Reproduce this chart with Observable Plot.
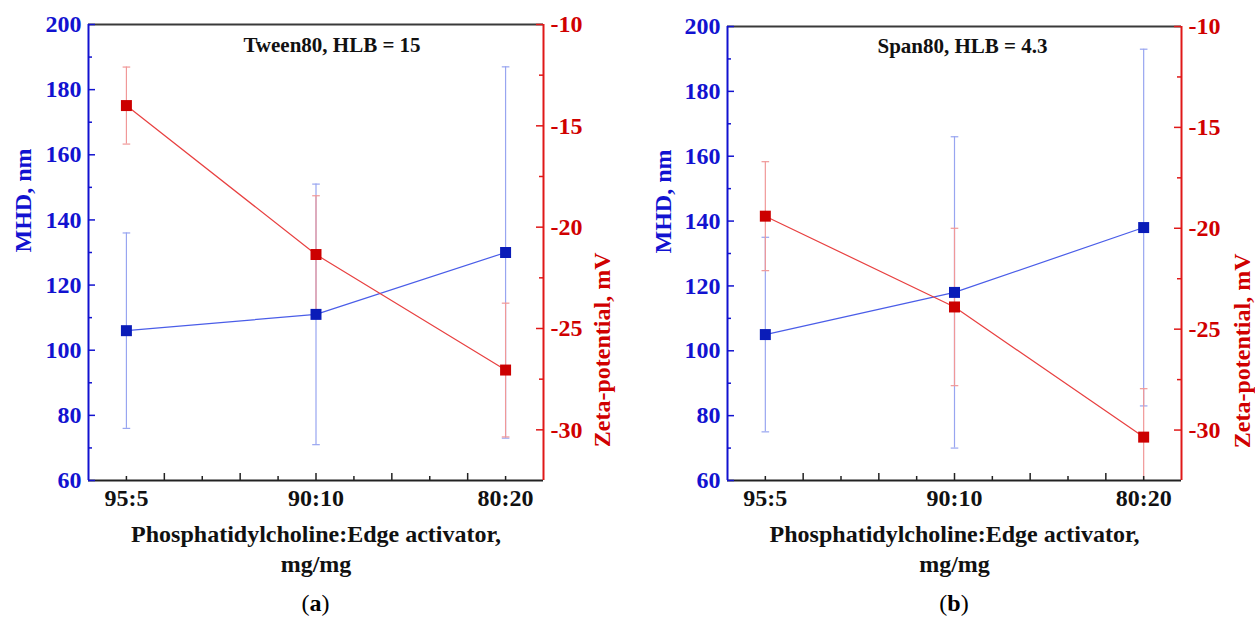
<!DOCTYPE html>
<html><head><meta charset="utf-8">
<script src="https://cdn.jsdelivr.net/npm/d3@7"></script>
<script src="https://cdn.jsdelivr.net/npm/@observablehq/plot@0.6"></script>
<style>
body{margin:0;background:#fff;}
#wrap{display:flex;width:1255px;height:621px;overflow:hidden;}
.panel{display:flex;flex-direction:column;}
.cap{height:36px;line-height:36px;text-align:center;font-family:"Liberation Serif","Times New Roman",serif;font-size:24px;color:#000;box-sizing:border-box;}
</style></head><body><div id="wrap"></div>
<script>
// ---- data ----
const categories = ["95:5", "90:10", "80:20"];
const xIndex = [1, 2, 3];
const titles = ["Tween80, HLB = 15", "Span80, HLB = 4.3"];
const captionLetters = ["a", "b"];
// panel (a)
const mhdA = [106, 111, 130];
const mhdErrA = [30, 40, 57];
const zetaA = [-14.0, -21.35, -27.05];
const zetaErrA = [1.9, 2.9, 3.3];
// panel (b)
const mhdB = [105, 118, 138];
const mhdErrB = [30, 48, 55];
const zetaB = [-19.4, -23.9, -30.35];
const zetaErrB = [2.7, 3.9, 2.4];
// axes
const mhdDomain = [60, 200];
const zetaDomain = [-32.5, -10];
const mhdTicks = [60, 80, 100, 120, 140, 160, 180, 200];
const mhdMinor = [70, 90, 110, 130, 150, 170, 190];
const zetaTicks = [-10, -15, -20, -25, -30];
const zetaMinor = [-12.5, -17.5, -22.5, -27.5];
const xDomain = [0.8, 3.2];
const xMajor = [1.2, 1.6, 2.0, 2.4, 2.8];
const xMinor = [1.0, 1.4, 1.8, 2.2, 2.6, 3.0];
const xLabel = "Phosphatidylcholine:Edge activator,\nmg/mg";
const yLabelLeft = "MHD, nm";
const yLabelRight = "Zeta-potential, mV";

// ---- colours ----
const BLUE_AXIS = "#1212d0", BLUE_MARK = "#0a1cb8", BLUE_LINE = "#4a5de8", BLUE_ERR = "#98a5f0";
const RED_AXIS = "#e01818", RED_TEXT = "#d00000", RED_MARK = "#cc0000", RED_LINE = "#e84040", RED_ERR = "#f09898";
const FONT = "'Liberation Serif','Times New Roman',serif";

const toY = d3.scaleLinear().domain(zetaDomain).range(mhdDomain);
const capSymbol = {draw(ctx) { ctx.moveTo(-3.8, 0); ctx.lineTo(3.8, 0); }};

function panel(o) {
  const H = 585, marginBottom = H - 480;
  const fw = o.width - o.marginLeft - o.marginRight;
  const fh = H - o.marginTop - marginBottom;
  const rows = categories.map((c, i) => ({
    x: xIndex[i], cat: c,
    m: o.mhd[i], mLo: o.mhd[i] - o.mhdErr[i], mHi: o.mhd[i] + o.mhdErr[i],
    z: toY(o.zeta[i]), zLo: toY(o.zeta[i] - o.zetaErr[i]), zHi: toY(o.zeta[i] + o.zetaErr[i])
  }));
  const txt = {fontWeight: "bold", fontFamily: FONT};
  const svg = Plot.plot({
    width: o.width, height: H,
    marginLeft: o.marginLeft, marginRight: o.marginRight, marginTop: o.marginTop, marginBottom,
    x: {domain: xDomain},
    y: {domain: mhdDomain},
    style: {fontFamily: FONT, background: "white", overflow: "visible"},
    marks: [
      // error bars
      Plot.ruleX(rows, {x: "x", y1: "mLo", y2: "mHi", stroke: BLUE_ERR, strokeWidth: 1.2, clip: true}),
      Plot.dot(rows, {x: "x", y: "mLo", symbol: capSymbol, stroke: BLUE_ERR, fill: "none", strokeWidth: 1.2, clip: true}),
      Plot.dot(rows, {x: "x", y: "mHi", symbol: capSymbol, stroke: BLUE_ERR, fill: "none", strokeWidth: 1.2, clip: true}),
      Plot.ruleX(rows, {x: "x", y1: "zLo", y2: "zHi", stroke: RED_ERR, strokeWidth: 1.2, clip: true}),
      Plot.dot(rows, {x: "x", y: "zLo", symbol: capSymbol, stroke: RED_ERR, fill: "none", strokeWidth: 1.2, clip: true}),
      Plot.dot(rows, {x: "x", y: "zHi", symbol: capSymbol, stroke: RED_ERR, fill: "none", strokeWidth: 1.2, clip: true}),
      // lines
      Plot.line(rows, {x: "x", y: "m", stroke: BLUE_LINE, strokeWidth: 1.2}),
      Plot.line(rows, {x: "x", y: "z", stroke: RED_LINE, strokeWidth: 1.2}),
      // markers
      Plot.dot(rows, {x: "x", y: "m", symbol: "square", r: 6.2, fill: BLUE_MARK, stroke: "none"}),
      Plot.dot(rows, {x: "x", y: "z", symbol: "square", r: 6.2, fill: RED_MARK, stroke: "none"}),
      // frame lines
      Plot.ruleY([mhdDomain[1]], {stroke: "#3a3a3a", strokeWidth: 2}),
      Plot.ruleY([mhdDomain[0]], {stroke: "#222", strokeWidth: 2}),
      Plot.ruleX([xDomain[0]], {stroke: BLUE_AXIS, strokeWidth: 2}),
      Plot.ruleX([xDomain[1]], {stroke: RED_AXIS, strokeWidth: 2}),
      // inward ticks
      Plot.tickY(mhdTicks, {y: d => d, stroke: BLUE_AXIS, strokeWidth: 1.5, insetRight: fw - 7}),
      Plot.tickY(mhdMinor, {y: d => d, stroke: BLUE_AXIS, strokeWidth: 1.5, insetRight: fw - 4}),
      Plot.tickY(zetaTicks.map(toY), {y: d => d, stroke: RED_AXIS, strokeWidth: 1.5, insetLeft: fw - 7}),
      Plot.tickY(zetaMinor.map(toY), {y: d => d, stroke: RED_AXIS, strokeWidth: 1.5, insetLeft: fw - 4}),
      Plot.tickX(xMajor, {x: d => d, stroke: "#222", strokeWidth: 1.5, insetTop: fh - 7}),
      Plot.tickX(xMinor, {x: d => d, stroke: "#222", strokeWidth: 1.5, insetTop: fh - 4}),
      // axis tick labels
      Plot.axisY(mhdTicks, {anchor: "left", tickSize: 0, tickPadding: 7, label: null, fontSize: 24, ...txt, fill: BLUE_AXIS, tickFormat: d => String(d)}),
      Plot.axisY(zetaTicks.map(toY), {anchor: "right", tickSize: 0, tickPadding: 7, label: null, fontSize: 24, ...txt, fill: RED_TEXT, tickFormat: d => String(Math.round(toY.invert(d)))}),
      Plot.axisX(xIndex, {anchor: "bottom", tickSize: 0, tickPadding: 8, label: null, fontSize: 24, ...txt, fill: "#111", tickFormat: d => categories[Math.round(d) - 1]}),
      // labels
      Plot.text([o.title], {text: d => d, frameAnchor: "top", lineAnchor: "top", dx: o.titleDx, dy: o.titleDy, fontSize: 21, ...txt, fill: "#111"}),
      Plot.text([yLabelLeft], {text: d => d, frameAnchor: "left", rotate: -90, dx: o.leftDx, fontSize: 24, ...txt, fill: BLUE_AXIS}),
      Plot.text([yLabelRight], {text: d => d, frameAnchor: "right", rotate: -90, dx: o.rightDx, fontSize: 24, ...txt, fill: RED_TEXT}),
      Plot.text([xLabel], {text: d => d, frameAnchor: "bottom", lineAnchor: "top", dy: 41, lineHeight: 1.22, fontSize: 24, ...txt, fill: "#111"})
    ]
  });
  const div = document.createElement("div");
  div.className = "panel";
  div.style.width = o.width + "px";
  div.appendChild(svg);
  const cap = document.createElement("div");
  cap.className = "cap";
  cap.style.paddingLeft = o.marginLeft + "px";
  cap.style.paddingRight = o.marginRight + "px";
  cap.innerHTML = "(<b>" + o.letter + "</b>)";
  div.appendChild(cap);
  return div;
}

const wrap = document.getElementById("wrap");
wrap.appendChild(panel({width: 627, marginLeft: 88, marginRight: 84, marginTop: 24,
  title: titles[0], titleDx: 16, titleDy: 13, mhd: mhdA, mhdErr: mhdErrA, zeta: zetaA, zetaErr: zetaErrA,
  leftDx: -65, rightDx: 59, letter: captionLetters[0]}));
wrap.appendChild(panel({width: 628, marginLeft: 100, marginRight: 74, marginTop: 26,
  title: titles[1], titleDx: 8, titleDy: 12, mhd: mhdB, mhdErr: mhdErrB, zeta: zetaB, zetaErr: zetaErrB,
  leftDx: -64, rightDx: 61, letter: captionLetters[1]}));
</script></body></html>
